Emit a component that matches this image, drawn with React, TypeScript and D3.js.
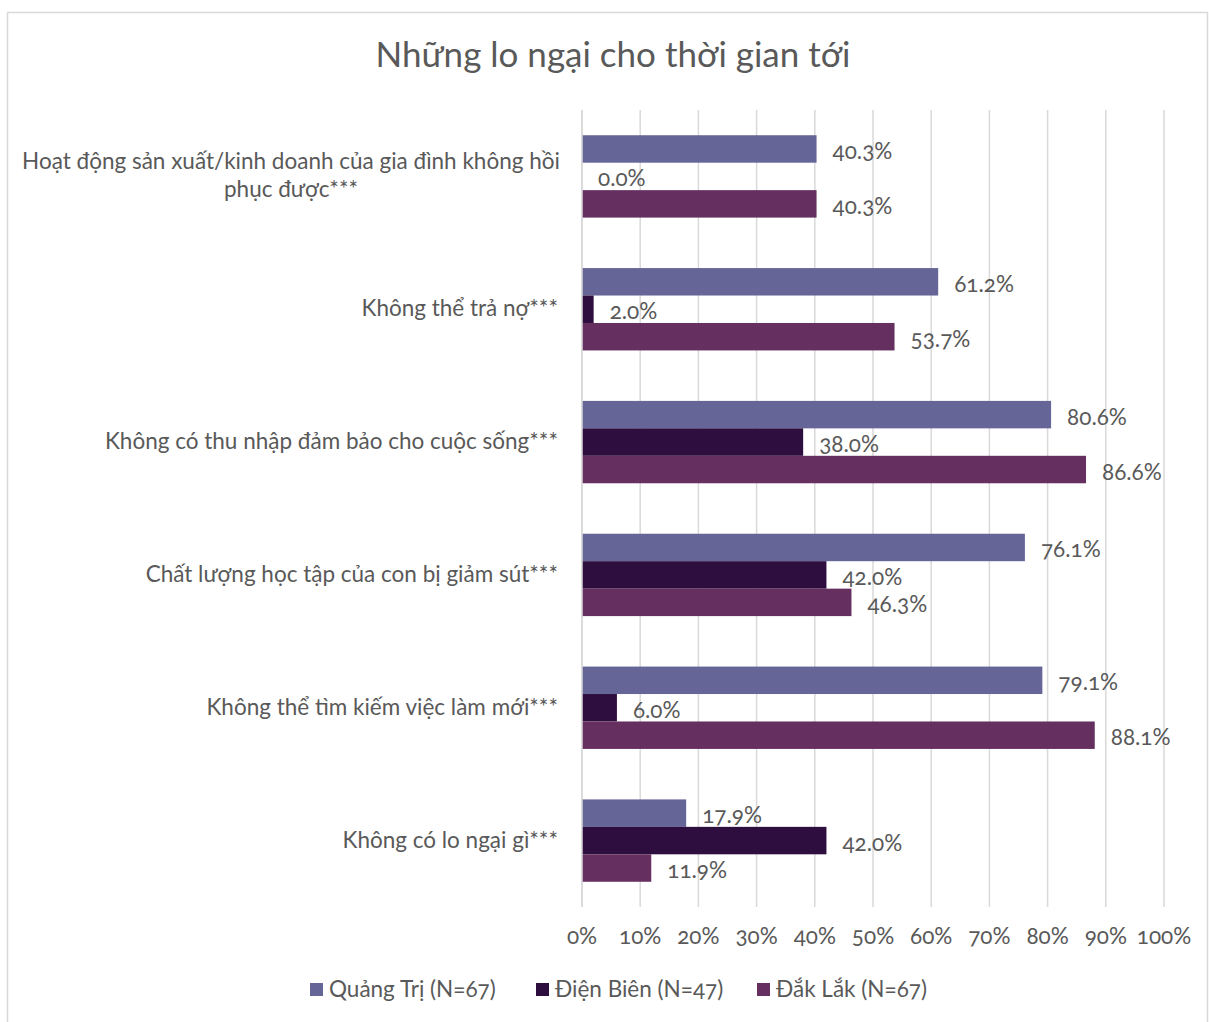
import React from "react";
import * as d3 from "d3";

const title = "Những lo ngại cho thời gian tới";
const categories = [
  "Hoạt động sản xuất/kinh doanh của gia đình không hồi phục được***",
  "Không thể trả nợ***",
  "Không có thu nhập đảm bảo cho cuộc sống***",
  "Chất lượng học tập của con bị giảm sút***",
  "Không thể tìm kiếm việc làm mới***",
  "Không có lo ngại gì***",
];
const categoryLines = [
  ["Hoạt động sản xuất/kinh doanh của gia đình không hồi", "phục được***"],
  ["Không thể trả nợ***"],
  ["Không có thu nhập đảm bảo cho cuộc sống***"],
  ["Chất lượng học tập của con bị giảm sút***"],
  ["Không thể tìm kiếm việc làm mới***"],
  ["Không có lo ngại gì***"],
];
const seriesNames = ["Quảng Trị (N=67)", "Điện Biên (N=47)", "Đắk Lắk (N=67)"];
const quangTri = [40.3, 61.2, 80.6, 76.1, 79.1, 17.9];
const dienBien = [0.0, 2.0, 38.0, 42.0, 6.0, 42.0];
const dakLak = [40.3, 53.7, 86.6, 46.3, 88.1, 11.9];
const colors = ["#656598", "#2e0e3e", "#652f60"];
const ticks = [0, 10, 20, 30, 40, 50, 60, 70, 80, 90, 100];

const W = 1209;
const H = 1022;
const FONT = "Lato, 'Open Sans', sans-serif";
const FS = 22.5;

export default function App() {
  const series = [quangTri, dienBien, dakLak];
  const x = d3.scaleLinear().domain([0, 100]).range([582, 1164]);
  const y = d3.scaleBand<number>().domain(d3.range(categories.length)).range([110, 907]).paddingInner(0.38).paddingOuter(0.19);
  const sub = d3.scaleBand<number>().domain([0, 1, 2]).range([0, y.bandwidth()]);
  const textColor = "#595959";
  const legendX = [310, 536, 757];
  return (
    <svg width={W} height={H} style={{ position: "absolute", left: 0, top: 0, fontFamily: FONT, fontFeatureSettings: "'onum'" }}>
      <rect x={0} y={0} width={W} height={H} fill="#fff" />
      <rect x={7.5} y={12.5} width={1200} height={1020} fill="#fff" stroke="#d9d9d9" strokeWidth={1.5} />
      <text x={613} y={67} textAnchor="middle" fontSize={35} fill={textColor}>{title}</text>
      {ticks.map((t) => (
        <line key={"g" + t} x1={x(t)} x2={x(t)} y1={110} y2={907} stroke="#d9d9d9" strokeWidth={1.5} />
      ))}
      {categories.map((c, i) => (
        <g key={c}>
          {series.map((s, j) => {
            const yy = (y(i) as number) + (sub(j) as number);
            const h = sub.bandwidth();
            return (
              <g key={j}>
                <rect x={x(0)} y={yy} width={x(s[i]) - x(0)} height={h} fill={colors[j]} />
                <text x={x(s[i]) + 16} y={yy + h / 2 + 10} fontSize={FS} fill={textColor}>
                  {s[i].toFixed(1) + "%"}
                </text>
              </g>
            );
          })}
          {categoryLines[i].map((ln, k) => {
            const n = categoryLines[i].length;
            const cy = (y(i) as number) + y.bandwidth() / 2 + (k - (n - 1) / 2) * 28 + 7;
            return n > 1 ? (
              <text key={k} x={291} y={cy} textAnchor="middle" fontSize={FS} fill={textColor}>{ln}</text>
            ) : (
              <text key={k} x={558} y={cy} textAnchor="end" fontSize={FS} fill={textColor}>{ln}</text>
            );
          })}
        </g>
      ))}
      <line x1={x(0)} x2={x(0)} y1={110} y2={907} stroke="#d9d9d9" strokeWidth={1.5} />
      {ticks.map((t) => (
        <text key={"t" + t} x={x(t)} y={944} textAnchor="middle" fontSize={FS} fill={textColor}>{t + "%"}</text>
      ))}
      {seriesNames.map((n, j) => (
        <g key={n}>
          <rect x={legendX[j]} y={983} width={13} height={13} fill={colors[j]} />
          <text x={legendX[j] + 19} y={997} fontSize={FS} fill={textColor}>{n}</text>
        </g>
      ))}
    </svg>
  );
}
